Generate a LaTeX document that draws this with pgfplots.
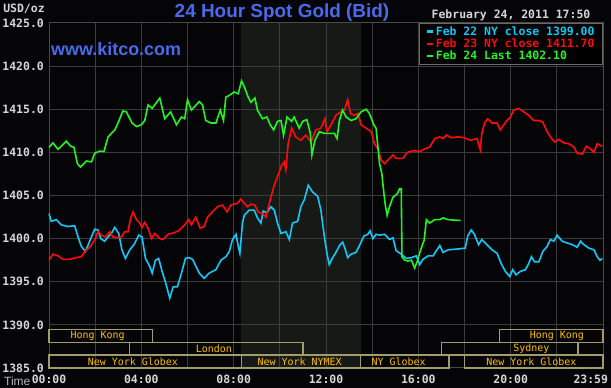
\documentclass[border=0pt]{standalone}
\usepackage{pgfplots}
\pgfplotsset{compat=1.18}
\usepackage{fontspec}
\setmainfont{Liberation Sans}
\newfontfamily\mono{DejaVu Sans Mono}
\definecolor{bg}{HTML}{050508}
\definecolor{gridc}{HTML}{3C3C3C}
\definecolor{framec}{HTML}{4A4A4A}
\definecolor{shadec}{HTML}{161915}
\definecolor{tickc}{HTML}{D6D6D6}
\definecolor{timec}{HTML}{B8B8B8}
\definecolor{titlec}{HTML}{4A6AEE}
\definecolor{boxc}{HTML}{A09C6C}
\definecolor{labc}{HTML}{FFC000}
\definecolor{legc}{HTML}{6A6A6A}
\definecolor{c22}{HTML}{12C8F8}
\definecolor{c23}{HTML}{FF0A0A}
\definecolor{c24}{HTML}{22F422}
\newcommand{\tfont}{\mono\bfseries\fontsize{11.5}{12}\selectfont}
\newcommand{\mfont}{\mono\fontsize{10}{11}\selectfont}
\begin{document}
\begin{tikzpicture}
\begin{axis}[
  at={(49bp,20bp)}, anchor=south west,
  scale only axis, width=554bp, height=345bp,
  xmin=0, xmax=24, ymin=1385, ymax=1425,
  set layers=standard,
  clip=false,
  xtick={0,2,...,22},
  xticklabels={00:00,,04:00,,08:00,,12:00,,16:00,,20:00,},
  extra x ticks={23.47},
  extra x tick labels={23:59},
  extra x tick style={grid=none, tick style={draw=none}},
  ytick={1385,1390,...,1425},
  yticklabels={1385.0,1390.0,1395.0,1400.0,1405.0,1410.0,1415.0,1420.0,1425.0},
  grid=major,
  major grid style={gridc, line width=1bp},
  axis line style={framec, line width=1bp},
  tick style={draw=none},
  major tick length=0pt,
  ticklabel style={font=\tfont, text=tickc, inner sep=0pt},
  xticklabel shift=7bp,
  yticklabel shift=5bp,
  legend cell align=left,
  legend image code/.code={\draw[#1, line width=2.2bp] (0bp,0bp) -- (6bp,0bp);},
  legend style={at={(1,1)}, anchor=north east, fill=black, draw=legc, line width=1bp,
    font=\tfont, inner xsep=6bp, inner ysep=1bp, row sep=-2bp,
    /tikz/every even column/.append style={column sep=1bp}},
]
\begin{pgfonlayer}{axis background}
\fill[bg] (rel axis cs:-0.0885,-0.058) rectangle (rel axis cs:1.0145,1.0667);
\end{pgfonlayer}
\addplot[on layer=axis background, fill=shadec, draw=none, forget plot]
  coordinates {(8.33,1385) (8.33,1425) (13.5,1425) (13.5,1385)} -- cycle;

\addplot[c22, line width=1.6bp] coordinates {
(0,1402.9) (0.1,1402.0) (0.32,1402.2) (0.53,1401.6) (0.82,1401.4) (1.11,1401.5) (1.26,1400.2) (1.4,1399.1) (1.58,1398.5) (1.76,1399.7) (1.98,1401.1) (2.12,1401.0) (2.24,1400.0) (2.41,1399.7) (2.56,1400.2) (2.7,1400.6) (2.85,1401.3) (3.02,1400.6) (3.16,1398.7) (3.31,1397.7) (3.5,1398.7) (3.68,1399.3) (3.89,1400.4) (4.03,1400.2) (4.18,1397.7) (4.36,1396.8) (4.47,1396.0) (4.61,1397.5) (4.75,1397.7) (4.9,1396.2) (5.04,1395.0) (5.23,1393.1) (5.38,1394.4) (5.56,1394.4) (5.74,1396.0) (5.91,1397.7) (6.05,1397.8) (6.22,1397.6) (6.51,1396.0) (6.72,1395.4) (6.94,1396.0) (7.23,1396.4) (7.45,1397.5) (7.66,1397.9) (7.81,1398.5) (7.95,1399.9) (8.1,1400.5) (8.2,1399.1) (8.27,1398.3) (8.38,1401.8) (8.46,1402.7) (8.67,1403.3) (8.89,1403.3) (9.03,1402.4) (9.18,1401.8) (9.28,1403.2) (9.44,1403.0) (9.61,1403.7) (9.76,1403.3) (9.9,1401.8) (10.05,1400.6) (10.26,1400.8) (10.41,1399.9) (10.55,1401.8) (10.77,1402.0) (10.91,1403.7) (11.06,1404.5) (11.23,1406.2) (11.42,1405.4) (11.64,1404.9) (11.78,1403.3) (11.92,1400.4) (12.04,1398.3) (12.14,1397.0) (12.29,1397.8) (12.43,1398.4) (12.58,1399.2) (12.72,1399.6) (12.83,1398.8) (12.94,1397.8) (13.09,1398.2) (13.3,1398.4) (13.45,1399.2) (13.64,1400.3) (13.81,1400.5) (13.91,1400.9) (14.03,1400.0) (14.17,1400.5) (14.32,1400.4) (14.54,1400.5) (14.75,1399.9) (14.9,1400.1) (15.04,1398.6) (15.26,1398.2) (15.48,1397.7) (15.7,1397.8) (15.91,1398.0) (16.06,1397.0) (16.2,1397.6) (16.42,1398.0) (16.64,1398.0) (16.78,1398.6) (16.93,1399.2) (17.07,1398.4) (17.29,1398.7) (17.72,1398.8) (18.03,1398.9) (18.14,1400.3) (18.29,1401.0) (18.43,1400.5) (18.61,1399.3) (18.75,1399.9) (18.97,1399.3) (19.19,1398.7) (19.41,1398.3) (19.59,1397.1) (19.77,1396.2) (19.96,1395.6) (20.09,1396.4) (20.23,1395.8) (20.42,1396.2) (20.64,1396.4) (20.78,1397.1) (20.9,1397.9) (21.04,1397.3) (21.22,1397.3) (21.39,1398.5) (21.58,1399.1) (21.72,1399.9) (21.87,1399.7) (22.01,1400.4) (22.23,1399.7) (22.45,1399.5) (22.67,1399.3) (22.88,1399.0) (23.03,1399.7) (23.17,1399.3) (23.39,1398.9) (23.61,1398.7) (23.75,1397.9) (23.87,1397.5) (23.97,1397.7)
};
\addlegendentry{\textcolor{c22}{Feb 22 NY close 1399.00}}

\addplot[c23, line width=1.6bp] coordinates {
(0,1397.5) (0.17,1398.2) (0.39,1398.0) (0.61,1397.6) (0.9,1397.6) (1.18,1397.8) (1.4,1397.9) (1.55,1398.5) (1.76,1399.0) (1.98,1399.8) (2.12,1400.8) (2.27,1400.4) (2.44,1400.2) (2.63,1400.8) (2.77,1400.2) (2.99,1400.1) (3.14,1400.2) (3.28,1400.8) (3.42,1400.8) (3.54,1402.4) (3.64,1403.1) (3.79,1402.2) (3.93,1401.8) (4.03,1401.3) (4.15,1401.9) (4.29,1401.2) (4.44,1400.0) (4.58,1400.6) (4.8,1400.0) (4.94,1399.9) (5.16,1400.5) (5.45,1400.7) (5.66,1401.0) (5.88,1401.6) (6.05,1402.2) (6.17,1401.6) (6.36,1402.5) (6.55,1401.2) (6.72,1401.4) (6.87,1402.5) (7.08,1403.1) (7.3,1403.7) (7.52,1403.9) (7.71,1403.1) (7.88,1403.9) (8.17,1404.1) (8.31,1404.6) (8.46,1404.1) (8.6,1403.7) (8.75,1404.0) (8.92,1403.9) (9.06,1403.1) (9.25,1402.9) (9.4,1402.5) (9.47,1403.3) (9.61,1404.8) (9.76,1406.2) (9.9,1407.2) (10.08,1408.5) (10.19,1408.9) (10.26,1408.0) (10.36,1411.0) (10.51,1412.8) (10.69,1411.8) (10.91,1411.4) (11.13,1412.0) (11.35,1411.2) (11.56,1412.6) (11.78,1412.8) (11.95,1413.9) (12.04,1412.4) (12.22,1413.2) (12.43,1414.3) (12.65,1414.7) (12.8,1414.9) (12.94,1416.1) (13.06,1414.5) (13.23,1414.3) (13.38,1414.5) (13.52,1413.2) (13.74,1412.8) (13.96,1412.4) (14.1,1411.0) (14.25,1410.4) (14.39,1409.1) (14.54,1408.7) (14.68,1409.1) (14.9,1409.7) (15.04,1409.3) (15.33,1409.3) (15.52,1410.0) (15.77,1410.2) (16.06,1410.1) (16.28,1410.4) (16.49,1410.6) (16.71,1411.6) (16.93,1411.8) (17.07,1411.6) (17.22,1412.0) (17.43,1411.7) (17.72,1411.8) (18.0,1411.7) (18.25,1411.4) (18.54,1411.6) (18.68,1410.3) (18.75,1412.2) (18.87,1413.4) (19.01,1413.9) (19.19,1413.4) (19.41,1413.4) (19.55,1412.6) (19.7,1413.2) (19.84,1413.7) (19.99,1414.1) (20.13,1414.9) (20.35,1415.1) (20.57,1414.7) (20.78,1414.3) (21.0,1413.7) (21.22,1413.7) (21.39,1413.5) (21.58,1412.4) (21.77,1411.6) (21.91,1411.2) (22.09,1411.5) (22.3,1411.1) (22.52,1411.0) (22.74,1410.6) (22.88,1409.9) (23.1,1409.8) (23.28,1410.7) (23.46,1410.4) (23.61,1410.0) (23.75,1411.0) (23.97,1410.7)
};
\addlegendentry{\textcolor{c23}{Feb 23 NY close 1411.70}}

\addplot[c24, line width=1.6bp] coordinates {
(0,1410.58) (0.17,1411.1) (0.39,1410.35) (0.75,1411.3) (0.94,1410.7) (1.08,1410.6) (1.23,1408.7) (1.36,1408.3) (1.62,1409.0) (1.84,1408.9) (1.98,1409.9) (2.2,1410.15) (2.38,1410.1) (2.56,1411.8) (2.85,1412.6) (2.99,1413.4) (3.2,1414.8) (3.35,1414.7) (3.6,1413.4) (3.79,1413.0) (4.0,1413.2) (4.15,1413.7) (4.29,1415.5) (4.47,1415.1) (4.8,1416.3) (5.01,1413.9) (5.27,1414.7) (5.52,1413.2) (5.74,1414.1) (5.88,1413.9) (6.0,1416.1) (6.17,1414.9) (6.51,1415.9) (6.65,1415.5) (6.79,1413.7) (7.01,1413.4) (7.23,1413.4) (7.42,1414.9) (7.56,1413.7) (7.66,1416.4) (7.81,1416.6) (8.02,1417.0) (8.2,1416.8) (8.34,1418.3) (8.46,1417.6) (8.63,1416.4) (8.75,1415.8) (8.92,1416.3) (9.03,1414.9) (9.25,1413.9) (9.44,1414.1) (9.58,1413.2) (9.73,1412.6) (9.9,1413.6) (10.05,1413.7) (10.16,1412.0) (10.31,1414.1) (10.51,1413.6) (10.62,1414.1) (10.84,1412.8) (10.99,1413.6) (11.17,1413.8) (11.32,1412.2) (11.39,1409.7) (11.52,1411.4) (11.71,1412.4) (11.92,1412.2) (12.14,1412.2) (12.36,1412.2) (12.48,1411.6) (12.58,1413.7) (12.72,1414.9) (12.87,1414.1) (13.09,1413.7) (13.3,1413.9) (13.52,1414.7) (13.74,1415.0) (13.88,1414.5) (14.07,1413.2) (14.17,1412.8) (14.25,1410.6) (14.32,1408.7) (14.42,1407.5) (14.51,1405.2) (14.58,1403.7) (14.65,1402.7) (14.75,1403.7) (14.9,1404.8) (15.09,1405.2) (15.19,1405.8) (15.26,1405.8) (15.29,1397.9) (15.41,1397.5) (15.55,1397.4) (15.7,1397.5) (15.84,1396.6) (15.96,1397.4) (16.1,1398.7) (16.25,1399.8) (16.35,1402.2) (16.49,1401.8) (16.71,1402.2) (16.93,1402.2) (17.07,1402.4) (17.29,1402.2) (17.83,1402.1)
};
\addlegendentry{\textcolor{c24}{Feb 24 Last 1402.10}}

% trading-session boxes
\draw[boxc, line width=1.2bp] (axis cs:0,1388) rectangle (axis cs:4.5,1389.5);
\draw[boxc, line width=1.2bp] (axis cs:19.5,1388) rectangle (axis cs:24,1389.5);
\draw[boxc, line width=1.2bp] (axis cs:3.5,1386.5) rectangle (axis cs:11,1388);
\draw[boxc, line width=1.2bp] (axis cs:17,1386.5) rectangle (axis cs:22.92,1388);
\draw[boxc, line width=1.2bp] (axis cs:0,1385) rectangle (axis cs:8.33,1386.5);
\draw[boxc, line width=1.2bp] (axis cs:8.33,1385) rectangle (axis cs:13.5,1386.5);
\draw[boxc, line width=1.2bp] (axis cs:13.5,1385) rectangle (axis cs:17.33,1386.5);
\draw[boxc, line width=1.2bp] (axis cs:18,1385) rectangle (axis cs:24,1386.5);
\node[font=\mfont, text=labc] at (axis cs:2.11,1388.75) {Hong Kong};
\node[font=\mfont, text=labc] at (axis cs:22.0,1388.75) {Hong Kong};
\node[font=\mfont, text=labc] at (axis cs:7.14,1387.25) {London};
\node[font=\mfont, text=labc] at (axis cs:20.9,1387.25) {Sydney};
\node[font=\mfont, text=labc] at (axis cs:3.63,1385.75) {New York Globex};
\node[font=\mfont, text=labc] at (axis cs:10.86,1385.75) {New York NYMEX};
\node[font=\mfont, text=labc] at (axis cs:15.15,1385.75) {NY Globex};
\node[font=\mfont, text=labc] at (axis cs:20.9,1385.75) {New York Globex};
\end{axis}
\node[font=\bfseries\fontsize{19}{20}\selectfont, text=titlec] at (282bp,375bp) {24 Hour Spot Gold (Bid)};
\node[font=\bfseries\fontsize{18}{19}\selectfont, text=titlec, anchor=west, inner sep=0pt] at (51bp,339bp) {www.kitco.com};
\node[font=\tfont, text=tickc, inner sep=0pt] at (511bp,373bp) {February 24, 2011 17:50};
\node[font=\tfont, text=tickc, inner sep=0pt] at (24bp,379bp) {USD/oz};
\node[font=\fontsize{12}{13}\selectfont, text=timec, inner sep=0pt, anchor=west] at (4bp,7bp) {Time};
\pgfresetboundingbox
\path (0,0) rectangle (611bp,388bp);
\end{tikzpicture}
\end{document}
